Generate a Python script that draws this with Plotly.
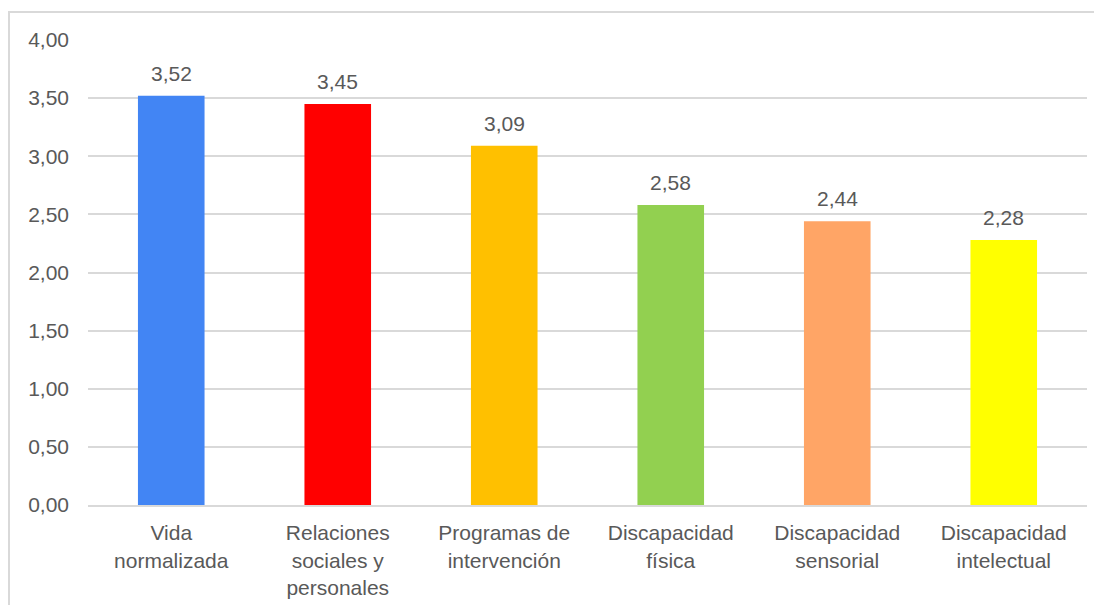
import plotly.graph_objects as go

categories = ["Vida<br>normalizada", "Relaciones<br>sociales y<br>personales",
              "Programas de<br>intervención", "Discapacidad<br>física",
              "Discapacidad<br>sensorial", "Discapacidad<br>intelectual"]
values = [3.52, 3.45, 3.09, 2.58, 2.44, 2.28]
colors = ["#4285F4", "#FF0000", "#FFC000", "#92D050", "#FFA566", "#FFFF00"]
tick_vals = [0, 0.5, 1, 1.5, 2, 2.5, 3, 3.5, 4]
tick_text = ["0,00", "0,50", "1,00", "1,50", "2,00", "2,50", "3,00", "3,50", "4,00"]

font_color = "#595959"
font_family = "Liberation Sans, Arial, sans-serif"
fs = 21

fig = go.Figure()
fig.add_trace(go.Bar(x=categories, y=values, marker=dict(color=colors, line=dict(width=0)),
                     hoverinfo="skip"))

for c, v in zip(categories, values):
    fig.add_annotation(x=c, y=v, text=f"{v:.2f}".replace(".", ","), showarrow=False,
                       yanchor="bottom", yshift=9,
                       font=dict(size=fs, color=font_color, family=font_family))

# page has an 8px body margin; figure coords are offset by (8, 8)
fig.add_shape(type="rect", xref="paper", yref="paper",
              x0=(1 - 80) / 999, x1=1.2, y0=-0.5, y1=(497 - 4) / 465,
              line=dict(color="#d9d9d9", width=2), fillcolor="rgba(0,0,0,0)", layer="below")

fig.update_layout(
    width=1094, height=597,
    margin=dict(l=80, r=15, t=32, b=100, autoexpand=False),
    paper_bgcolor="white", plot_bgcolor="white",
    bargap=0.6, showlegend=False,
    font=dict(family=font_family, size=fs, color=font_color),
)
fig.update_yaxes(range=[0, 4], tickvals=tick_vals, ticktext=tick_text,
                 showgrid=True, gridcolor="#d9d9d9", gridwidth=2,
                 zeroline=False, showline=False, ticks="", ticklabelstandoff=18,
                 tickfont=dict(size=fs, color=font_color), automargin=False)
fig.update_xaxes(showline=True, linecolor="#d9d9d9", linewidth=2, ticks="",
                 tickfont=dict(size=fs, color=font_color), ticklabelstandoff=8,
                 automargin=False)

fig.write_html("out.html")
